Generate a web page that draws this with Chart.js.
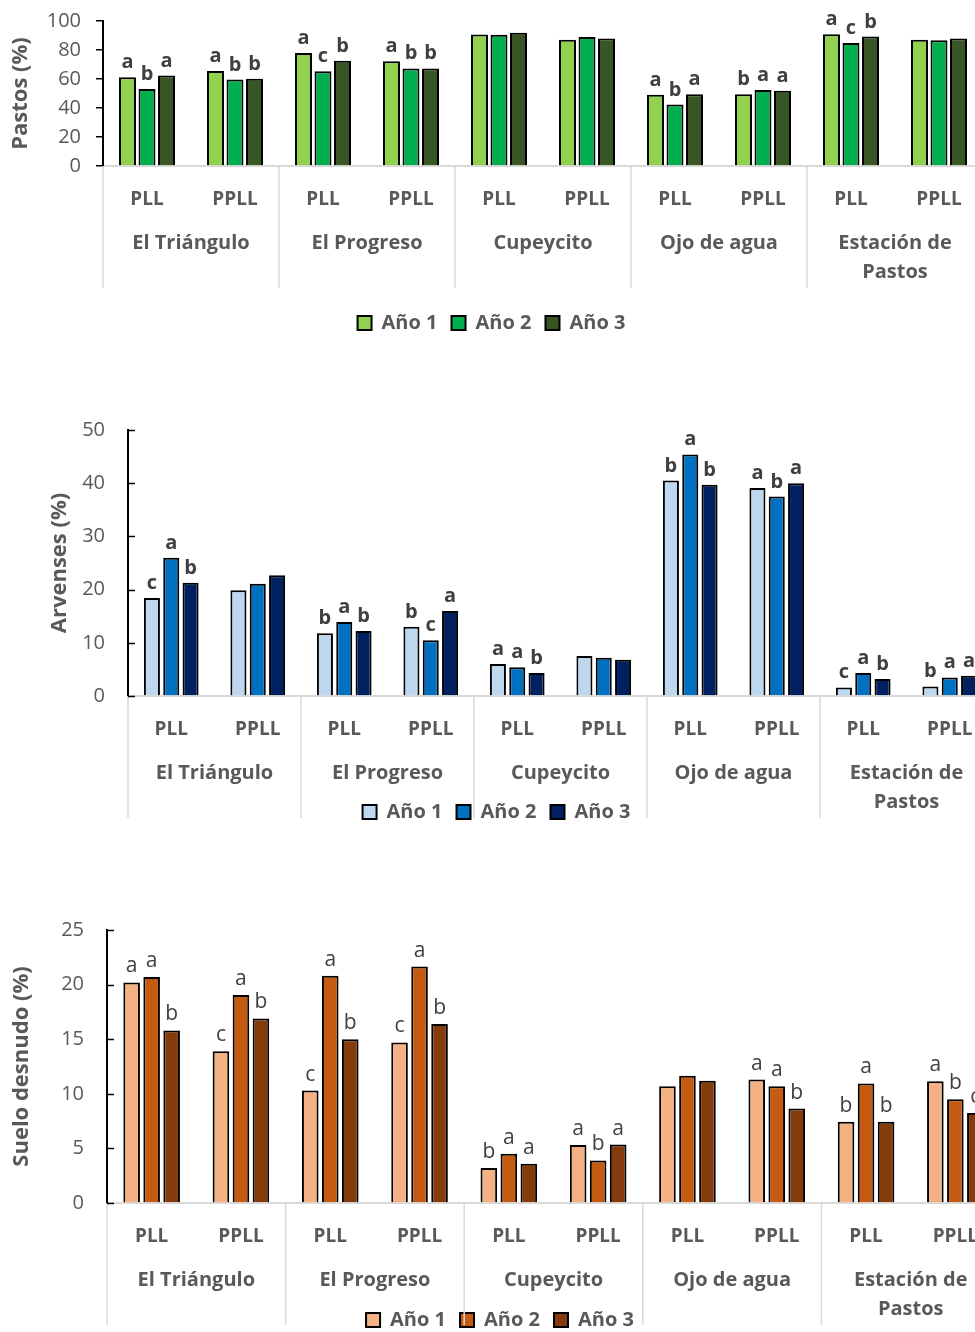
<!DOCTYPE html>
<html>
<head>
<meta charset="utf-8">
<script src="https://cdn.jsdelivr.net/npm/chart.js@4.4.1/dist/chart.umd.min.js"></script>
<style>
  html, body { margin: 0; padding: 0; background: #fff; overflow: hidden; }
  body { width: 975px; height: 1332px; position: relative; }
  canvas { position: absolute; left: 0; }
</style>
</head>
<body>
<canvas id="pastos" width="983" height="343" style="top:0px"></canvas>
<canvas id="arvenses" width="993" height="432" style="top:400px"></canvas>
<canvas id="suelo" width="1000" height="440" style="top:900px"></canvas>
<script>
let sitios = ['El Triángulo', 'El Progreso', 'Cupeycito', 'Ojo de agua', ['Estación de', 'Pastos']];
let categorias = ['PLL', 'PPLL', 'PLL', 'PPLL', 'PLL', 'PPLL', 'PLL', 'PPLL', 'PLL', 'PPLL'];
let anios = ['Año 1', 'Año 2', 'Año 3'];

// Pastos (%)
let pastos1 = [61.2, 65.6, 77.9, 72.2, 90.7, 87.0, 49.2, 49.4, 90.9, 87.0];
let pastos2 = [53.1, 59.6, 65.4, 67.3, 90.5, 88.9, 42.4, 52.4, 84.9, 86.8];
let pastos3 = [62.4, 60.1, 72.6, 67.3, 91.9, 87.9, 49.4, 51.9, 89.3, 87.9];
let pastosLetras1 = ['a', 'a', 'a', 'a', '', '', 'a', 'b', 'a', ''];
let pastosLetras2 = ['b', 'b', 'c', 'b', '', '', 'b', 'a', 'c', ''];
let pastosLetras3 = ['a', 'b', 'b', 'b', '', '', 'a', 'a', 'b', ''];

// Arvenses (%)
let arvenses1 = [18.4, 19.9, 11.8, 13.0, 6.0, 7.5, 40.5, 39.1, 1.6, 1.8];
let arvenses2 = [26.0, 21.1, 13.9, 10.5, 5.4, 7.2, 45.4, 37.5, 4.3, 3.5];
let arvenses3 = [21.3, 22.7, 12.2, 16.0, 4.3, 6.8, 39.7, 40.0, 3.2, 3.8];
let arvensesLetras1 = ['c', '', 'b', 'b', 'a', '', 'b', 'a', 'c', 'b'];
let arvensesLetras2 = ['a', '', 'a', 'c', 'a', '', 'a', 'b', 'a', 'a'];
let arvensesLetras3 = ['b', '', 'b', 'a', 'b', '', 'b', 'a', 'b', 'a'];

// Suelo desnudo (%)
let suelo1 = [20.2, 13.9, 10.3, 14.7, 3.2, 5.3, 10.7, 11.3, 7.45, 11.15];
let suelo2 = [20.7, 19.05, 20.8, 21.65, 4.5, 3.9, 11.65, 10.7, 10.95, 9.5];
let suelo3 = [15.8, 16.9, 15.0, 16.4, 3.6, 5.35, 11.2, 8.65, 7.45, 8.25];
let sueloLetras1 = ['a', 'c', 'c', 'c', 'b', 'a', '', 'a', 'b', 'a'];
let sueloLetras2 = ['a', 'a', 'a', 'a', 'a', 'b', '', 'a', 'a', 'b'];
let sueloLetras3 = ['b', 'b', 'b', 'b', 'a', 'a', '', 'b', 'b', 'c'];

Chart.defaults.font.family = '"Open Sans", sans-serif';
Chart.defaults.color = '#595959';

// site names under the PLL/PPLL labels, with the light separators
function groupAxis(s) {
  return {
    id: 'groupAxis',
    afterDraw(chart) {
      let ctx = chart.ctx;
      let x = chart.scales.x;
      let area = chart.chartArea;
      let step = x.getPixelForValue(1) - x.getPixelForValue(0);
      ctx.save();
      ctx.strokeStyle = '#d9d9d9';
      ctx.lineWidth = 1.5;
      for (let g = 0; g <= sitios.length; g++) {
        let px = x.getPixelForValue(0) - step / 2 + g * 2 * step;
        ctx.beginPath();
        ctx.moveTo(px, area.bottom);
        ctx.lineTo(px, area.bottom + 122);
        ctx.stroke();
      }
      ctx.fillStyle = '#595959';
      ctx.font = 'bold 20px "Open Sans"';
      ctx.textAlign = 'center';
      ctx.textBaseline = 'middle';
      sitios.forEach((name, g) => {
        let cx = (x.getPixelForValue(2 * g) + x.getPixelForValue(2 * g + 1)) / 2;
        [].concat(name).forEach((t, k) => ctx.fillText(t, cx, area.bottom + 77 + k * 29));
      });
      if (s.innerTicks) {
        let y = chart.scales.y;
        ctx.strokeStyle = '#000';
        ctx.lineWidth = 1.5;
        y.ticks.forEach(t => {
          let py = Math.round(y.getPixelForValue(t.value)) + 0.5;
          ctx.beginPath();
          ctx.moveTo(area.left, py);
          ctx.lineTo(area.left + 7, py);
          ctx.stroke();
        });
      }
      ctx.restore();
    }
  };
}

// significance letters above the bars
function barLetters(s) {
  return {
    id: 'barLetters',
    afterDatasetsDraw(chart) {
      let ctx = chart.ctx;
      ctx.save();
      ctx.fillStyle = '#404040';
      ctx.font = s.letterFont;
      ctx.textAlign = 'center';
      ctx.textBaseline = 'alphabetic';
      chart.data.datasets.forEach((ds, i) => {
        chart.getDatasetMeta(i).data.forEach((bar, j) => {
          let t = ds.letras[j];
          if (t) ctx.fillText(t, bar.x, bar.y - s.letterGap);
        });
      });
      ctx.restore();
    }
  };
}

function buildChart(id, s) {
  let datasets = s.values.map((vals, i) => ({
    label: anios[i],
    data: vals,
    letras: s.letters[i],
    backgroundColor: s.colors[i],
    borderColor: '#000000',
    borderWidth: 2,
    categoryPercentage: s.catPct,
    barPercentage: s.barPct
  }));

  let config = {
    type: 'bar',
    data: { labels: categorias, datasets: datasets },
    options: {
      responsive: false,
      animation: false,
      layout: { padding: { top: s.top, left: 0, right: 0, bottom: 0 } },
      scales: {
        x: {
          grid: { display: false },
          border: { display: true, color: '#d9d9d9', width: 2 },
          ticks: {
            color: '#595959',
            font: { size: 19, weight: 'bold' },
            padding: 14,
            maxRotation: 0,
            autoSkip: false
          },
          afterFit: (scale) => { scale.height = s.xHeight; }
        },
        y: {
          min: 0,
          max: s.max,
          ticks: { stepSize: s.step, color: '#595959', font: { size: 20 }, padding: s.tickPad },
          grid: { drawOnChartArea: false, drawTicks: !s.innerTicks, tickLength: 7, color: '#000', lineWidth: 1.5 },
          border: { color: '#000', width: 2 },
          title: {
            display: true,
            text: s.title,
            color: '#595959',
            font: { size: 22, weight: 'bold' },
            padding: { top: s.titlePad, bottom: 0 }
          },
          afterFit: (scale) => {
            scale.width = s.axisX;
            scale.paddingTop = 0;
            scale.paddingBottom = 0;
          }
        }
      },
      plugins: {
        legend: {
          position: 'bottom',
          labels: { boxWidth: 14, boxHeight: 14, padding: 14, color: '#595959', font: { size: 20, weight: 'bold' } }
        },
        tooltip: { enabled: false }
      }
    },
    plugins: [groupAxis(s), barLetters(s)]
  };

  return new Chart(document.getElementById(id).getContext('2d'), config);
}

buildChart('pastos', {
  values: [pastos1, pastos2, pastos3],
  letters: [pastosLetras1, pastosLetras2, pastosLetras3],
  colors: ['#92d050', '#00b050', '#375623'],
  title: 'Pastos (%)',
  max: 100, step: 20,
  top: 21, xHeight: 133, axisX: 103,
  tickPad: 15, titlePad: 8, innerTicks: false,
  catPct: 0.665, barPct: 0.87,
  letterFont: 'bold 20px "Open Sans"', letterGap: 9
});

buildChart('arvenses', {
  values: [arvenses1, arvenses2, arvenses3],
  letters: [arvensesLetras1, arvensesLetras2, arvensesLetras3],
  colors: ['#bdd7ee', '#0070c0', '#002060'],
  title: 'Arvenses (%)',
  max: 50, step: 10,
  top: 30, xHeight: 92, axisX: 128,
  tickPad: 23, titlePad: 47, innerTicks: true,
  catPct: 0.67, barPct: 0.83,
  letterFont: 'bold 20px "Open Sans"', letterGap: 9
});

buildChart('suelo', {
  values: [suelo1, suelo2, suelo3],
  letters: [sueloLetras1, sueloLetras2, sueloLetras3],
  colors: ['#f4b183', '#c55a11', '#843c0c'],
  title: 'Suelo desnudo (%)',
  max: 25, step: 5,
  top: 30, xHeight: 93, axisX: 107,
  tickPad: 23, titlePad: 9, innerTicks: true,
  catPct: 0.672, barPct: 0.83,
  letterFont: '21px "Open Sans"', letterGap: 10
});
</script>
</body>
</html>
